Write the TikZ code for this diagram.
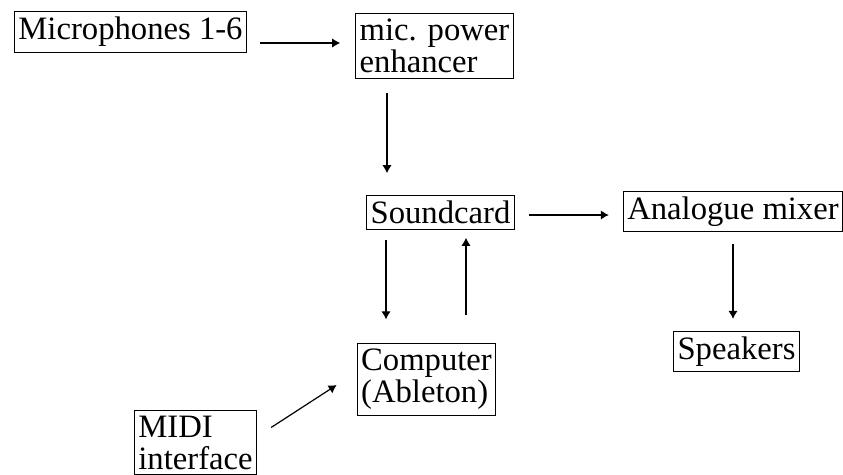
\documentclass[tikz,border=0pt]{standalone}
\usepackage{fontspec}
\setmainfont{Liberation Serif}
\usetikzlibrary{calc,arrows.meta}

\begin{document}
\begin{tikzpicture}[x=0.75pt,y=-0.75pt,
    box/.style={draw,line width=0.75pt,inner xsep=3pt,inner ysep=4pt,align=left,
      font=\fontsize{24.5}{24}\selectfont},
    link/.style={-{Latex[length=6pt,width=7pt]},line width=0.9pt}]
              \useasboundingbox (0,0) rectangle (843,475);
              \node[box](mic)at(130.5,32){Microphones 1-6};
              \node[box](amp)at(434.5,46){mic. power\\enhancer};
              \node[box](card)at(440.5,212.5){Soundcard};
              \node[box](mix)at(733,211.5){Analogue mixer};
              \node[box](spk)at(736.5,351.5){Speakers};
              \node[box](pc)at(426.5,379.5){Computer\\(Ableton)};
              \node[box](midi)at(195.5,442.5){MIDI\\interface};
              \draw[link]([shift={(13,11)}]mic.east)--([shift={(-15,-3)}]amp.west);
              \draw[link]([shift={(-47.5,14)}]amp.south)--([shift={(-53.5,-22)}]card.north);
              \draw[link]([shift={(14,2.5)}]card.east)--([shift={(-14,3.5)}]mix.west);
              \draw[link]([shift={(-54.5,10)}]card.south)--([shift={(-40.5,-24)}]pc.north);
              \draw[link]([shift={(39.5,-28)}]pc.north)--([shift={(25.5,8)}]card.south);
              \draw[link]([shift={(0,12)}]mix.south)--([shift={(-3.5,-12)}]spk.north);
              \draw[link]([shift={(14,-15)}]midi.east)--([shift={(-20,5.5)}]pc.west);
\end{tikzpicture}
\end{document}
